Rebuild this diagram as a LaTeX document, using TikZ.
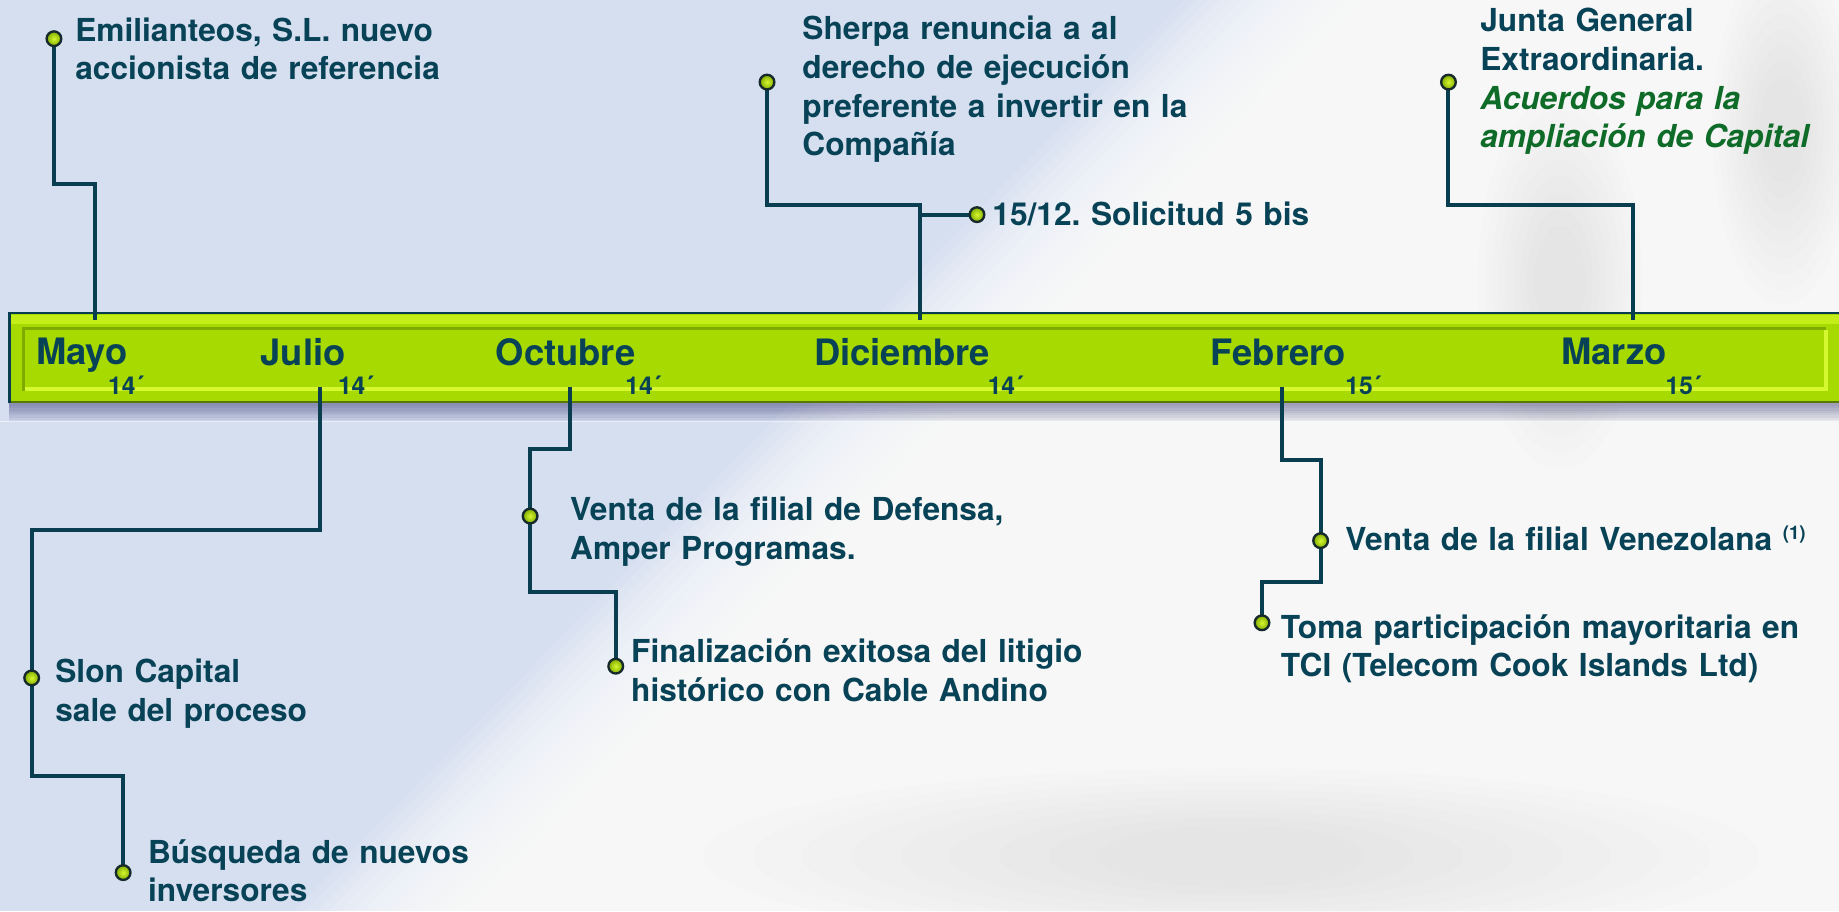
\documentclass[tikz,border=0pt]{standalone}
\usepackage{fontspec}
\setmainfont{TeX Gyre Heros}
\usetikzlibrary{calc}
\definecolor{ink}{RGB}{8,66,86}
\definecolor{lnc}{RGB}{8,62,80}
\definecolor{gital}{RGB}{14,108,40}
\definecolor{lime}{RGB}{166,218,0}
\definecolor{limehi}{RGB}{196,238,24}
\definecolor{limelt}{RGB}{214,248,48}
\definecolor{limedk}{RGB}{128,170,0}
\definecolor{bgblue}{RGB}{213,223,240}
\definecolor{dotdk}{RGB}{22,42,44}
\pgfdeclarelayer{back}\pgfdeclarelayer{wires}
\pgfsetlayers{back,wires,main}
\tikzset{
  conn/.style={draw=lnc, line width=3.4pt, line join=miter},
  dotnode/.style={circle, minimum size=12.5pt, inner sep=0pt, draw=dotdk, line width=2pt,
     inner color=limelt, outer color=limedk},
  evtext/.style={anchor=base west, inner sep=0pt, text width=480pt, align=left, text=ink,
     font=\fontsize{27}{33}\selectfont\bfseries},
  month/.style={anchor=base west, inner sep=0pt, text=ink, font=\fontsize{31}{31}\selectfont\bfseries},
  yearlbl/.style={anchor=base west, inner sep=0pt, text=ink, font=\fontsize{21}{21}\selectfont\bfseries},
}
\frenchspacing
\begin{document}
\begin{tikzpicture}[x=1pt,y=-1pt]
\useasboundingbox (0,0) rectangle (1568,777);
% ---------- background ----------
\begin{pgfonlayer}{back}
\fill[bgblue] (0,0) rectangle (1568,777);
\foreach \d in {-70,-60,...,80}
  \fill[white, opacity=0.12] ({1080+\d},0) -- (1568,0) -- (1568,777) -- ({320+\d},777) -- cycle;
% faint grey shadows on the right
\foreach \r in {1,0.9,...,0.1}
  \fill[black!50, opacity=0.012] (1330,240) ellipse ({60*\r+10} and {140*\r+20});
\foreach \r in {1,0.9,...,0.1}
  \fill[black!50, opacity=0.012] (1520,110) ellipse ({50*\r+10} and {130*\r+20});
\foreach \r in {1,0.9,...,0.1}
  \fill[black!50, opacity=0.01] (1050,730) ellipse ({420*\r+30} and {60*\r+15});
% ---------- bar ----------
\fill[lime] (8,267) rectangle (1568,344);
\fill[limehi] (9,269) rectangle (1568,276);
\draw[limedk, line width=2pt] (20,333) -- (20,280) -- (1557,280);
\draw[limelt, line width=3pt] (21,331.5) -- (1557,331.5) -- (1557,281);
\draw[black!30!limedk, line width=1.5pt] (8,343) -- (1568,343);
\draw[lnc, line width=2.2pt] (8,344) -- (8,267) -- (1568,267);
\foreach \i in {1,...,8}
  \fill[black!70!blue, opacity=0.05] (8,344) rectangle (1568,{344+2*\i});
\draw[white, opacity=0.6, line width=0.8pt] (0,359) -- (1568,359);
\end{pgfonlayer}

% ---------- months ----------
\node[month] (mMayo) at (30.5,311) {Mayo};
\node[month] (mJulio) at (222,312) {Julio};
\node[month] (mOct) at (422.5,312) {Octubre};
\node[month] (mDic) at (694,312) {Diciembre};
\node[month] (mFeb) at (1032,312) {Febrero};
\node[month] (mMar) at (1331,311) {Marzo};
\node[yearlbl] (yMayo) at (92,336) {14´};
\node[yearlbl] (yJulio) at (288,336) {14´};
\node[yearlbl] (yOct) at (533,336) {14´};
\node[yearlbl] (yDic) at (842,336) {14´};
\node[yearlbl] (yFeb) at (1147,336) {15´};
\node[yearlbl] (yMar) at (1420,336) {15´};

% ---------- anchor points on the bar ----------
\coordinate (ma) at (81,273);
\coordinate (mb) at (784,273);
\coordinate (mc) at (1392,273);
\coordinate (md) at (273,330);
\coordinate (me) at (486,330);
\coordinate (mf) at (1093,330);
% elbows
\coordinate (ka) at (81,157);
\coordinate (kb) at (784,175);
\coordinate (kc) at (1392,175);
\coordinate (kd) at (27,452);
\coordinate (ld) at (105,662);
\coordinate (ke) at (452,383);
\coordinate (le) at (525,505);
\coordinate (kf) at (1126,392);
\coordinate (lf) at (1076,496);

% ---------- dots ----------
\node[dotnode] (a1) at (46,33) {};
\node[dotnode] (b1) at (654,70) {};
\node[dotnode] (b2) at (833,183) {};
\node[dotnode] (c1) at (1235,70) {};
\node[dotnode] (d1) at (27,578) {};
\node[dotnode] (d2) at (105,744) {};
\node[dotnode] (e1) at (452,440) {};
\node[dotnode] (e2) at (525,568) {};
\node[dotnode] (f1) at (1126,461) {};
\node[dotnode] (f2) at (1076,531) {};

% ---------- connectors ----------
\begin{pgfonlayer}{wires}
\draw[conn] (a1.center) |- (ka) -- (ma);
\draw[conn] (b1.center) |- (kb) -- (mb);
\draw[conn] (b2.center) -- (b2.center -| mb);
\draw[conn] (c1.center) |- (kc) -- (mc);
\draw[conn] (md) |- (kd) -- (d1.center) |- (ld) -- (d2.center);
\draw[conn] (me) |- (ke) -- (e1.center) |- (le) -- (e2.center);
\draw[conn] (mf) |- (kf) -- (f1.center) |- (lf) -- (f2.center);
\end{pgfonlayer}

% ---------- texts ----------
\node[evtext] (ta) at (64,35) {Emilianteos, S.L. nuevo\\accionista de referencia};
\node[evtext] (tb1) at (684,34) {Sherpa renuncia a al\\derecho de ejecución\\preferente a invertir en la\\Compañía};
\node[evtext] (tb2) at (846,192) {15/12. Solicitud 5 bis};
\node[evtext] (tc) at (1262,27) {Junta General\\Extraordinaria.\\{\itshape\color{gital}Acuerdos para la}\\{\itshape\color{gital}ampliación de Capital}};
\node[evtext] (td1) at (47,582) {Slon Capital\\sale del proceso};
\node[evtext] (td2) at (126,736) {Búsqueda de nuevos\\inversores};
\node[evtext] (te1) at (486,444) {Venta de la filial de Defensa,\\Amper Programas.};
\node[evtext] (te2) at (538,565) {Finalización exitosa del litigio\\histórico con Cable Andino};
\node[evtext] (tf1) at (1147,469) {Venta de la filial Venezolana \raisebox{9pt}{\fontsize{16}{16}\selectfont(1)}};
\node[evtext] (tf2) at (1092,544) {Toma participación mayoritaria en\\TCI (Telecom Cook Islands Ltd)};
\end{tikzpicture}
\end{document}
